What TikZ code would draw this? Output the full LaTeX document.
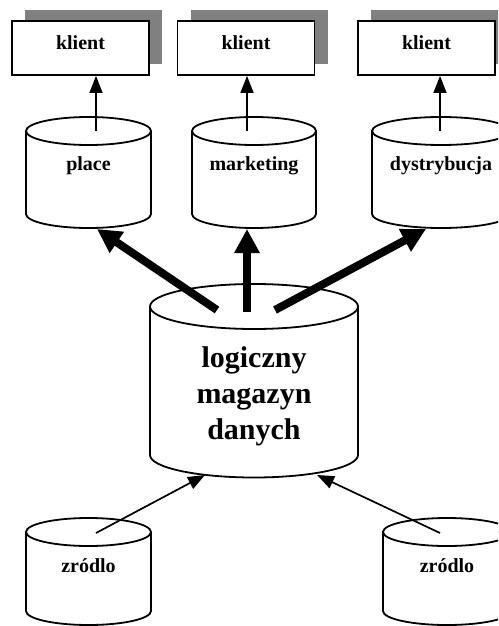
\documentclass[tikz,border=0pt]{standalone}
\usepackage{fontspec}
\setmainfont{Liberation Serif}
\usetikzlibrary{arrows.meta,shadows}

\definecolor{shadowgray}{RGB}{128,128,128}

\tikzset{
  client/.style={draw, line width=1.8pt, fill=white,
    minimum width=137pt, minimum height=54pt, inner sep=0pt,
    text height=14pt, text depth=10pt,
    font=\fontsize{20}{24}\selectfont\bfseries,
    drop shadow={shadow xshift=13pt, shadow yshift=11pt,
                 fill=shadowgray, opacity=1}},
  drumlabel/.style={anchor=base, inner sep=0pt,
    font=\fontsize{20}{24}\selectfont\bfseries},
  biglabel/.style={anchor=base, inner sep=0pt,
    font=\fontsize{30}{36}\selectfont\bfseries},
  drumline/.style={draw, line width=1.8pt, fill=white, line join=round},
  feed/.style={line width=1.7pt, -{Triangle[length=17pt,width=13pt]}},
  bigfeed/.style={line width=8pt, -{Triangle[length=24pt,width=24pt]}},
}

% database drum: centre x, top ellipse y, bottom ellipse y, x radius, y radius
\newcommand\drum[5]{%
  \path[drumline] (#1-#4,#2) -- (#1-#4,#3)
    arc[start angle=180, end angle=0, x radius=#4, y radius=#5]
    -- (#1+#4,#2) -- cycle;
  \path[drumline] (#1,#2) ellipse[x radius=#4, y radius=#5];
}

\begin{document}
\begin{tikzpicture}[x=1pt, y=-1pt]
  \useasboundingbox (0,0) rectangle (498,626);
  \clip (0,0) rectangle (498,626);

  % client boxes
  \node[client] (k1) at (80.5,48)  {klient};
  \node[client] (k2) at (246,48)   {klient};
  \node[client] (k3) at (426.5,48) {klient};

  % data marts
  \drum{88.5}{131}{214}{62.5}{14}
  \drum{254}{131}{214}{62}{14}
  \drum{441}{131}{214}{69}{14}
  \node[drumlabel] (place) at (88.5,170) {place};
  \node[drumlabel] (mkt)   at (254,170)  {marketing};
  \node[drumlabel] (dys)   at (441,170)  {dystrybucja};

  % central warehouse
  \drum{254}{306.5}{455}{104}{22.5}
  \node[biglabel] (lw1) at (254,367) {logiczny};
  \node[biglabel] (lw2) at (254,403) {magazyn};
  \node[biglabel] (lw3) at (254,439) {danych};

  % sources
  \drum{88.5}{532}{611}{62.5}{14}
  \drum{447}{532}{611}{64}{14}
  \node[drumlabel] (src1) at (88.5,572) {zródlo};
  \node[drumlabel] (src2) at (447,572)  {zródlo};

  % connector end points
  \coordinate (placeT) at (96,131);
  \coordinate (mktT)   at (247,131);
  \coordinate (dysT)   at (440,131);
  \coordinate (placeB) at (97,229);
  \coordinate (mktB)   at (247,229);
  \coordinate (dysB)   at (426,229);
  \coordinate (whL)    at (217,310);
  \coordinate (whM)    at (247,312);
  \coordinate (whR)    at (275,310);
  \coordinate (whBL)   at (205,475);
  \coordinate (whBR)   at (317,475);
  \coordinate (src1T)  at (96,533);
  \coordinate (src2T)  at (440,533);

  % marts to clients
  \draw[feed] (placeT) -- (placeT |- k1.south);
  \draw[feed] (mktT)   -- (mktT |- k2.south);
  \draw[feed] (dysT)   -- (dysT |- k3.south);

  % warehouse to marts
  \draw[bigfeed] (whL) -- (placeB);
  \draw[bigfeed] (whM) -- (mktB);
  \draw[bigfeed] (whR) -- (dysB);

  % sources to warehouse
  \draw[feed] (src1T) -- (whBL);
  \draw[feed] (src2T) -- (whBR);
\end{tikzpicture}
\end{document}
